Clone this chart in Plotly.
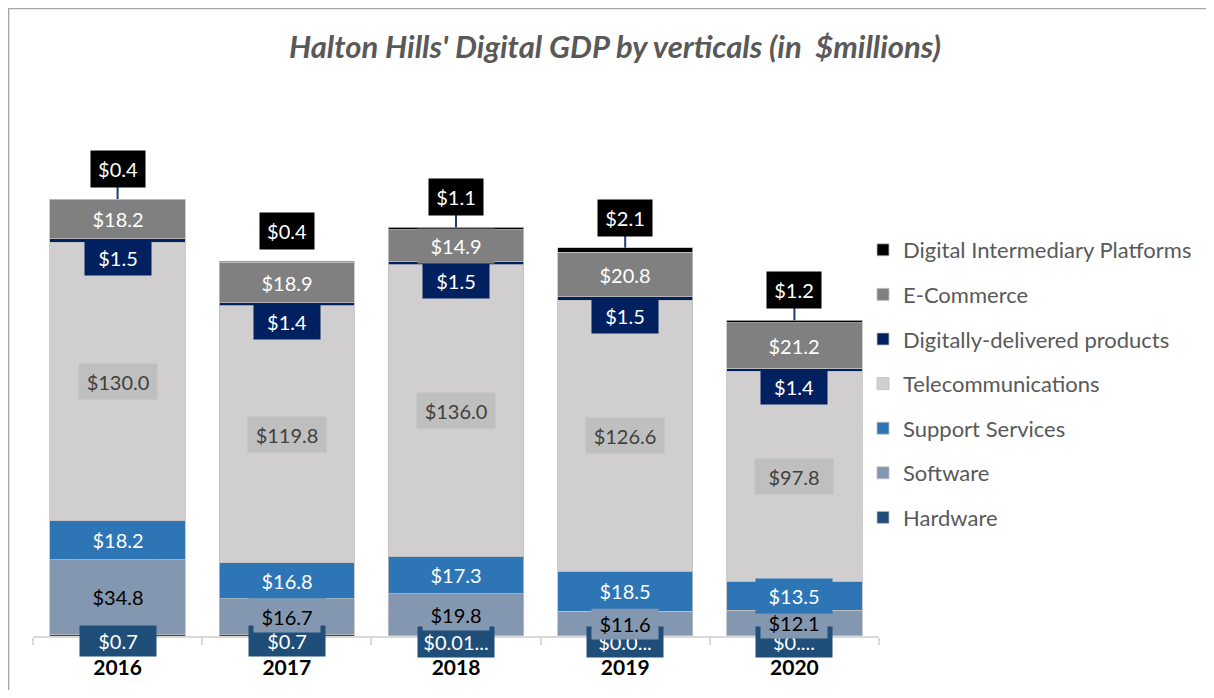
import plotly.graph_objects as go

years = ["2016", "2017", "2018", "2019", "2020"]
hardware = [0.7, 0.7, 0.01, 0.01, 0.01]
hardware_labels = ["$0.7", "$0.7", "$0.01...", "$0.0...", "$0...."]
software = [34.8, 16.7, 19.8, 11.6, 12.1]
support = [18.2, 16.8, 17.3, 18.5, 13.5]
telecom = [130.0, 119.8, 136.0, 126.6, 97.8]
ddp = [1.5, 1.4, 1.5, 1.5, 1.4]
ecommerce = [18.2, 18.9, 14.9, 20.8, 21.2]
dip = [0.4, 0.4, 1.1, 2.1, 1.2]
dip_leader = [True, False, True, True, True]

series = [
    ("Hardware", hardware, "#1F4E79"),
    ("Software", software, "#8497B0"),
    ("Support Services", support, "#2E75B6"),
    ("Telecommunications", telecom, "#D0CECE"),
    ("Digitally-delivered products", ddp, "#002060"),
    ("E-Commerce", ecommerce, "#808080"),
    ("Digital Intermediary Platforms", dip, "#000000"),
]

FONT = "Lato"
fig = go.Figure()
for i, (name, vals, col) in enumerate(series):
    fig.add_trace(go.Bar(
        x=years, y=vals, name=name, legendgroup=name,
        legendrank=1000 - i,
        marker=dict(color=col, line=dict(color="#BFBFBF", width=0.8)),
    ))

n = len(years)
bases = []
cum = [0.0] * n
for name, vals, col in series:
    bases.append(cum[:])
    cum = [c + v for c, v in zip(cum, vals)]
totals = cum

def fmt(v):
    return "$" + f"{v:.1f}"

annotations = []

def add_label(j, y, text, bg, fc, w, h, yshift=0, pad=4):
    # x given as category index (annotation on category axis)
    annotations.append(dict(
        x=j, y=y, xref="x", yref="y", text=text, showarrow=False,
        bgcolor=bg, font=dict(family=FONT, size=20, color=fc),
        width=w, height=h, borderpad=pad, yshift=yshift,
        xanchor="center", yanchor="middle",
    ))

px_per_unit = 536 / 250.0
dip_offset = 30 / px_per_unit

for j in range(n):
    if dip_leader[j]:
        fig.add_trace(go.Scatter(
            x=[years[j], years[j]], y=[totals[j], totals[j] + dip_offset],
            mode="lines", line=dict(color="#1F3B73", width=2),
            showlegend=False, hoverinfo="skip",
        ))

for j in range(n):
    add_label(j, bases[0][j] + hardware[j] / 2, hardware_labels[j],
              "#1F4E79", "white", 70, 24, yshift=-6, pad=3)
for j in range(n):
    add_label(j, bases[1][j] + software[j] / 2, fmt(software[j]),
              "#8497B0", "black", 60, 24, pad=3)
    add_label(j, bases[2][j] + support[j] / 2, fmt(support[j]),
              "#2E75B6", "white", 70, 28, pad=3)
    add_label(j, bases[3][j] + telecom[j] / 2, fmt(telecom[j]),
              "#BFBFBF", "#404040", 70, 27, pad=4)
    add_label(j, bases[4][j] + ddp[j], fmt(ddp[j]),
              "#002060", "white", 58, 26, yshift=-19, pad=4)
    add_label(j, bases[5][j] + ecommerce[j] / 2, fmt(ecommerce[j]),
              "#808080", "white", 70, 28, pad=3)
    add_label(j, totals[j] + dip_offset, fmt(dip[j]),
              "#000000", "white", 46, 28, pad=4)

# page has an 8px body margin; figure coordinates = page coordinates - 8
OFF = 8
W, H = 1198, 682
L = 33 - OFF
B = H - (636 - OFF)
T = 100 - OFF
R = W - (879 - OFF)
pw, ph = W - L - R, H - T - B

def px2x(p):
    return (p - OFF - L) / pw

def py2y(p):
    return (H - B - (p - OFF)) / ph

fig.update_layout(
    width=W, height=H,
    margin=dict(l=L, r=R, t=T, b=B, autoexpand=False),
    barmode="stack", bargap=0.2,
    paper_bgcolor="white", plot_bgcolor="white",
    title=dict(
        text="<b><i>Halton Hills' Digital GDP by verticals (in  $millions)</i></b>",
        font=dict(family=FONT, size=31, color="#595959"),
        x=(615 - OFF) / W, xref="container", xanchor="center",
        y=1 - (47 - OFF) / H, yref="container", yanchor="middle",
    ),
    xaxis=dict(
        type="category", categoryorder="array", categoryarray=years,
        range=[-0.5, 4.5], autorange=False, automargin=False,
        showgrid=False, showline=True, linecolor="#D9D9D9",
        linewidth=1.5, ticks="outside", tickson="boundaries", ticklen=7,
        tickcolor="#D9D9D9", tickwidth=1.5, tickangle=0,
        tickfont=dict(family=FONT, size=21, color="black", weight="bold"),
        ticklabelstandoff=12,
    ),
    yaxis=dict(visible=False, range=[0, 250], autorange=False),
    legend=dict(
        traceorder="grouped", x=px2x(863), xanchor="left",
        y=py2y(229), yanchor="top", tracegroupgap=13,
        font=dict(family=FONT, size=22, color="#595959"),
        bgcolor="rgba(0,0,0,0)",
    ),
    annotations=annotations,
    shapes=[dict(
        type="rect", xref="paper", yref="paper",
        x0=px2x(8.6), x1=px2x(1230), y0=py2y(720), y1=py2y(8.6),
        line=dict(color="#A6A6A6", width=1.5), fillcolor="rgba(0,0,0,0)",
        layer="below",
    )],
    showlegend=True,
)

fig.write_html("out.html")
